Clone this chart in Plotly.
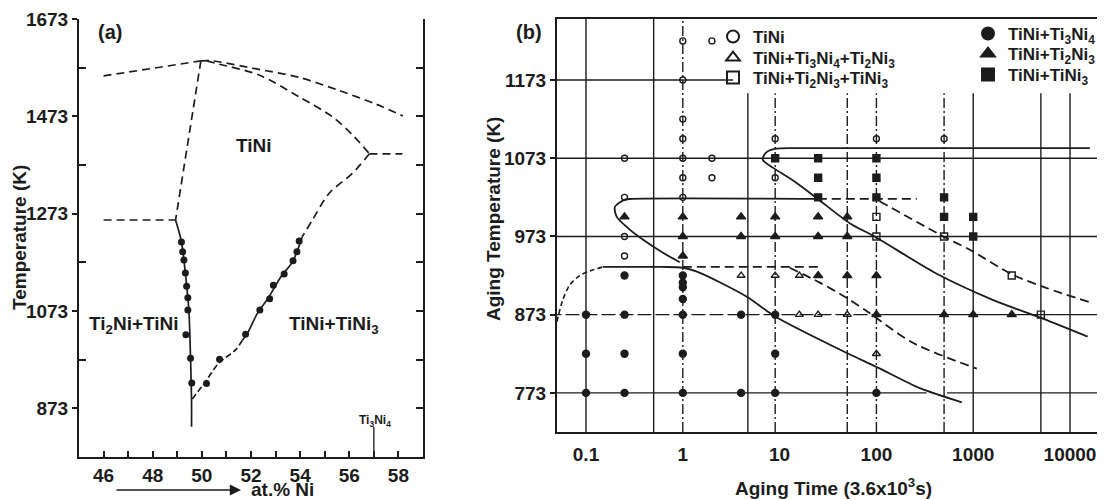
import plotly.graph_objects as go

# ================= Panel (a): Ti-Ni phase diagram =================
liq_left_x = [46, 49.96]
liq_left_T = [1556, 1587]
liq_upper_x = [49.96, 50.42, 52.05, 53.96, 55.59, 57.09, 58.18]
liq_upper_T = [1587, 1587, 1572, 1553, 1526, 1498, 1474]
liq_lower_x = [50.2, 50.56, 52.33, 53.96, 55.32, 56.13, 56.82]
liq_lower_T = [1587, 1582, 1558, 1513, 1472, 1435, 1396]
perit_x = [56.82, 58.16]
perit_T = [1396, 1396]
ni_dash_x = [56.82, 56.13, 55.18, 54.5, 54.09]
ni_dash_T = [1396, 1356, 1315, 1260, 1226]
ni_solid_x = [54.09, 53.69, 53.21, 52.73, 52.26, 51.85, 51.65]
ni_solid_T = [1226, 1174, 1143, 1102, 1068, 1027, 1013]
ni_low_x = [51.65, 51.37, 50.69, 50.15, 49.58]
ni_low_T = [1013, 993, 966, 928, 890]
ti_dash_x = [49.96, 48.93]
ti_dash_T = [1587, 1260]
eut_x = [46, 48.93]
eut_T = [1260, 1260]
ti_solid_x = [48.93, 49.17, 49.33, 49.47, 49.54, 49.58, 49.58]
ti_solid_T = [1260, 1215, 1150, 1075, 976, 890, 835]
ti3ni4_x = [57.0, 57.0]
ti3ni4_T = [835, 773]

dots_left_x = [49.17, 49.22, 49.27, 49.33, 49.38, 49.43, 49.43, 49.35, 49.54, 49.59]
dots_left_T = [1215, 1195, 1178, 1151, 1124, 1100, 1075, 1024, 976, 925]
dots_right_x = [53.96, 53.87, 53.71, 53.35, 52.91, 52.76, 52.36, 51.78, 50.72, 50.19]
dots_right_T = [1217, 1195, 1176, 1149, 1126, 1098, 1075, 1025, 974, 924]

a_yticks = [873, 1073, 1273, 1473, 1673]
a_xticks = [46, 48, 50, 52, 54, 56, 58]

# ================= Panel (b): TTT diagram =================
open_circle_t = [1, 2, 1, 1, 1, 1, 1, 1, 0.25, 2, 2, 0.25, 0.25, 0.25, 9, 9, 100, 500]
open_circle_T = [1223, 1223, 1173, 1123, 1098, 1073, 1048, 1023, 1073, 1073, 1048, 1023, 973, 948, 1098, 1048, 1098, 1098]

open_tri_t = [4, 9, 16, 16, 25, 50, 100]
open_tri_T = [923, 923, 923, 873, 873, 873, 823]

open_sq_t = [100, 100, 500, 2500, 5000]
open_sq_T = [998, 973, 973, 923, 873]

fill_circle_t = [0.25, 1, 1, 1, 1, 0.1, 0.25, 1, 4, 9, 0.1, 0.25, 1, 9, 0.1, 0.25, 1, 4, 9, 100]
fill_circle_T = [923, 923, 914, 908, 893, 873, 873, 873, 873, 873, 823, 823, 823, 823, 773, 773, 773, 773, 773, 773]

fill_tri_t = [0.25, 1, 1, 1, 4, 4, 9, 9, 25, 25, 50, 50, 25, 50, 100, 100, 500, 1000, 2500]
fill_tri_T = [998, 998, 973, 948, 998, 973, 998, 973, 998, 973, 998, 973, 923, 923, 923, 873, 873, 873, 873]

fill_sq_t = [9, 25, 25, 25, 100, 100, 100, 500, 500, 1000, 1000]
fill_sq_T = [1073, 1073, 1048, 1023, 1073, 1048, 1023, 1023, 998, 998, 973]

# TTT curves
curveA_t = [16000, 16, 8.9, 7.2, 6.7, 8.5, 14.4, 24.8, 53, 98.6, 411, 1590, 5240, 15200]
curveA_T = [1086, 1086, 1085, 1080, 1071, 1061, 1043, 1021, 990, 972, 926, 892, 868, 845]
curveB_h_t = [24.8, 261]
curveB_h_T = [1021, 1021]
curveB_t = [108, 509, 922, 2566, 5750, 16800]
curveB_T = [1018, 972, 956, 924, 907, 888]
curveC_t = [24.8, 0.3, 0.252, 0.199, 0.208, 0.264, 0.386, 0.607, 0.93]
curveC_T = [1021, 1021, 1020, 1011, 998, 985, 969, 953, 940]
curveD_dash_t = [0.05, 0.0576, 0.068, 0.086, 0.117, 0.149]
curveD_dash_T = [864, 892, 911, 923, 930, 934]
curveD_t = [0.149, 0.6, 1.0, 1.4, 4.58, 8.9, 49.5, 101, 281, 762]
curveD_T = [934, 934, 933, 928, 896, 871, 824, 806, 779, 761]
curveE_h_t = [1, 27]
curveE_h_T = [934, 934]
curveE_t = [12.7, 26, 47, 85, 238, 1090]
curveE_T = [933, 914, 896, 875, 837, 804]

b_yticks = [773, 873, 973, 1073, 1173]
b_xticks = [0.1, 1, 10, 100, 1000, 10000]
b_xticktext = ["0.1", "1", "10", "100", "1000", "10000"]

# frame lines of panel (b)
vgrid_t = [0.1, 0.5, 1, 4.7, 9, 50, 100, 500, 1000, 5000, 10000]
vgrid_top = [1251, 1251, 1251, 1156, 1156, 1156, 1156, 1156, 1156, 1156, 1156]
vgrid_dash = ["solid", "solid", "10px,3px,2px,3px", "solid", "10px,3px,2px,3px",
              "10px,3px,2px,3px", "10px,3px,2px,3px", "10px,3px,2px,3px", "solid", "solid", "solid"]
hgrid = [  # (T, t_start, t_end, dash)
    (1173, 0.04, 3.3, "solid"),
    (1073, 0.04, 30000, "solid"),
    (973, 0.04, 30000, "solid"),
    (873, 0.04, 100, "14px,4px"),
    (873, 100, 30000, "solid"),
    (773, 0.04, 330, "solid"),
    (773, 535, 30000, "solid"),
]

LC = "#1c1c1c"
FONT = "Liberation Sans"

fig = go.Figure()


def add_line(x, y, xa, ya, dash="solid", width=1.7, shape="linear"):
    fig.add_trace(go.Scatter(x=x, y=y, mode="lines", xaxis=xa, yaxis=ya,
                             line=dict(color=LC, width=width, dash=dash, shape=shape, smoothing=0.8),
                             showlegend=False, hoverinfo="skip"))


# ---- panel (a) lines ----
DA = "8px,5px"
add_line(liq_left_x, liq_left_T, "x", "y", DA)
add_line(liq_upper_x, liq_upper_T, "x", "y", DA, shape="spline")
add_line(liq_lower_x, liq_lower_T, "x", "y", DA, shape="spline")
add_line(perit_x, perit_T, "x", "y", DA)
add_line(ni_dash_x, ni_dash_T, "x", "y", DA, shape="spline")
add_line(ni_solid_x, ni_solid_T, "x", "y", "solid", shape="spline")
add_line(ni_low_x, ni_low_T, "x", "y", "6px,3px", shape="spline")
add_line(ti_dash_x, ti_dash_T, "x", "y", DA)
add_line(eut_x, eut_T, "x", "y", DA)
add_line(ti_solid_x, ti_solid_T, "x", "y", "solid", shape="spline")
add_line(ti3ni4_x, ti3ni4_T, "x", "y3", "solid", width=1.3)

fig.add_trace(go.Scatter(x=dots_left_x + dots_right_x, y=dots_left_T + dots_right_T, mode="markers",
                         xaxis="x", yaxis="y", marker=dict(color=LC, size=7),
                         showlegend=False, hoverinfo="skip"))

# ---- panel (b) frame lines ----
for t, top, d in zip(vgrid_t, vgrid_top, vgrid_dash):
    add_line([t, t], [700, top], "x2", "y2", d, width=1.4)
for T, t0, t1, d in hgrid:
    add_line([t0, t1], [T, T], "x2", "y2", d, width=1.4)

# ---- panel (b) curves ----
DB = "9px,5px"
add_line(curveA_t, curveA_T, "x2", "y2", "solid", width=1.8, shape="spline")
add_line(curveB_h_t, curveB_h_T, "x2", "y2", DB, width=1.8)
add_line(curveB_t, curveB_T, "x2", "y2", DB, width=1.8, shape="spline")
add_line(curveC_t, curveC_T, "x2", "y2", "solid", width=1.8, shape="spline")
add_line(curveD_dash_t, curveD_dash_T, "x2", "y2", "5px,3px", width=1.6, shape="spline")
add_line(curveD_t, curveD_T, "x2", "y2", "solid", width=1.8, shape="spline")
add_line(curveE_h_t, curveE_h_T, "x2", "y2", DB, width=1.8)
add_line(curveE_t, curveE_T, "x2", "y2", DB, width=1.8, shape="spline")

# ---- panel (b) markers (one small legend per entry) ----
series = [
    ("TiNi", open_circle_t, open_circle_T, "circle-open", 6),
    ("TiNi+Ti<sub>3</sub>Ni<sub>4</sub>+Ti<sub>2</sub>Ni<sub>3</sub>", open_tri_t, open_tri_T, "triangle-up-open", 7),
    ("TiNi+Ti<sub>2</sub>Ni<sub>3</sub>+TiNi<sub>3</sub>", open_sq_t, open_sq_T, "square-open", 7),
    ("TiNi+Ti<sub>3</sub>Ni<sub>4</sub>", fill_circle_t, fill_circle_T, "circle", 7),
    ("TiNi+Ti<sub>2</sub>Ni<sub>3</sub>", fill_tri_t, fill_tri_T, "triangle-up", 8),
    ("TiNi+TiNi<sub>3</sub>", fill_sq_t, fill_sq_T, "square", 7),
]
legend_ids = ["legend", "legend2", "legend3", "legend4", "legend5", "legend6"]
for (name, xs, ys, sym, sz), lg in zip(series, legend_ids):
    fig.add_trace(go.Scatter(x=xs, y=ys, mode="markers", name=name, xaxis="x2", yaxis="y2",
                             marker=dict(symbol=sym, size=sz, color=LC,
                                         line=dict(color=LC, width=1.4)),
                             legend=lg, hoverinfo="skip"))

# The page body has an 8 px margin, so the figure is drawn 8 px smaller and
# everything below is placed in reference-picture pixels.
OFF = 8
W, H = 1105 - OFF, 499 - OFF
L, T = 79 - OFF, 19 - OFF
R = W - (1098 - OFF)
B = H - (457 - OFF)
PW, PH = W - L - R, H - T - B


def px(xp):
    return (xp - OFF - L) / PW


def py(yp):
    return (H - B - (yp - OFF)) / PH


tickfont = dict(family=FONT, size=19, color=LC, weight="bold")
legfont = dict(family=FONT, size=17, color=LC, weight="bold")

# legend entry anchor points (reference pixels: left edge, vertical centre)
legend_pos = [(713, 37), (713, 58), (713, 78), (968, 34), (968, 54), (968, 75)]
legend_layout = {}
for lg, (lx, ly) in zip(legend_ids, legend_pos):
    legend_layout[lg] = dict(x=px(lx), y=py(ly), xanchor="left", yanchor="middle",
                             bgcolor="rgba(0,0,0,0)", font=legfont, itemsizing="constant")

fig.update_layout(
    width=W, height=H, margin=dict(l=L, r=R, t=T, b=B, autoexpand=False),
    paper_bgcolor="white", plot_bgcolor="rgba(0,0,0,0)",
    font=dict(family=FONT, color=LC),
    xaxis=dict(domain=[0, px(423)], range=[45, 59], anchor="y", showline=True, linecolor=LC, linewidth=2,
               tickmode="array", tickvals=a_xticks, ticks="inside", ticklen=6, tickwidth=1.5, tickcolor=LC,
               minor=dict(tickmode="array", tickvals=[47, 49, 51, 53, 55, 57], ticks="inside", ticklen=6,
                          tickwidth=1.5, tickcolor=LC),
               tickfont=tickfont, showgrid=False, zeroline=False),
    yaxis=dict(domain=[0, 1], range=[773, 1673], anchor="x", showline=True, linecolor=LC, linewidth=2,
               tickmode="array", tickvals=a_yticks, ticks="outside", ticklen=5, tickwidth=1.5, tickcolor=LC,
               minor=dict(tickmode="array", tickvals=[973, 1173, 1373, 1573], ticks="inside", ticklen=7,
                          tickwidth=1.5, tickcolor=LC),
               tickfont=tickfont, showgrid=False, zeroline=False),
    yaxis3=dict(overlaying="y", side="right", anchor="x", range=[773, 1673], showline=True, linecolor=LC,
                linewidth=2, tickmode="array", tickvals=[873, 973, 1073, 1173, 1273, 1373, 1473, 1573],
                ticks="inside", ticklen=7, tickwidth=1.5, tickcolor=LC, showticklabels=False,
                showgrid=False, zeroline=False),
    xaxis2=dict(domain=[px(557), 1], type="log", range=[-1.2996, 4.289], anchor="y2", showline=True,
                mirror=True, linecolor=LC, linewidth=2, tickmode="array", tickvals=b_xticks,
                ticktext=b_xticktext, ticks="outside", ticklen=4, tickcolor="rgba(0,0,0,0)",
                tickfont=tickfont, showgrid=False, zeroline=False),
    yaxis2=dict(domain=[py(432), 1], range=[723, 1251], anchor="x2", showline=True, mirror=True,
                linecolor=LC, linewidth=2, tickmode="array", tickvals=b_yticks, ticks="outside",
                ticklen=5, tickwidth=1.5, tickcolor=LC, tickfont=tickfont, showgrid=False, zeroline=False),
    **legend_layout,
)

ann_font = dict(family=FONT, size=19, color=LC, weight="bold")
annotations = [
    dict(text="(a)", x=px(110), y=py(32), font=dict(family=FONT, size=20, color=LC, weight="bold")),
    dict(text="(b)", x=px(529), y=py(32), font=dict(family=FONT, size=20, color=LC, weight="bold")),
    dict(text="Temperature (K)", x=px(19), y=py(238), textangle=-90, font=ann_font),
    dict(text="Aging Temperature (K)", x=px(493), y=py(219), textangle=-90, font=ann_font),
    dict(text="Aging Time (3.6x10<sup>3</sup>s)", x=px(833), y=py(487), font=ann_font),
    dict(text="at.% Ni", x=px(282), y=py(489), font=dict(family=FONT, size=19, color=LC, weight="bold")),
]
for a in annotations:
    a.update(xref="paper", yref="paper", showarrow=False, xanchor="center", yanchor="middle")
    fig.add_annotation(**a)

fig.add_annotation(text="", xref="paper", yref="paper", x=px(241), y=py(490), ax=-126, ay=0,
                   showarrow=True, arrowhead=2, arrowsize=1.4, arrowwidth=1.6, arrowcolor=LC)

# in-plot labels (panel a)
for txt, xx, yy, sz in [("TiNi", 52.12, 1414, 19),
                        ("Ti<sub>2</sub>Ni+TiNi", 47.22, 1044, 19),
                        ("TiNi+TiNi<sub>3</sub>", 55.39, 1044, 19),
                        ("Ti<sub>3</sub>Ni<sub>4</sub>", 57.05, 848, 12)]:
    fig.add_annotation(text=txt, x=xx, y=yy, xref="x", yref="y", showarrow=False,
                       font=dict(family=FONT, size=sz, color=LC, weight="bold"))

fig.write_html("out.html")
